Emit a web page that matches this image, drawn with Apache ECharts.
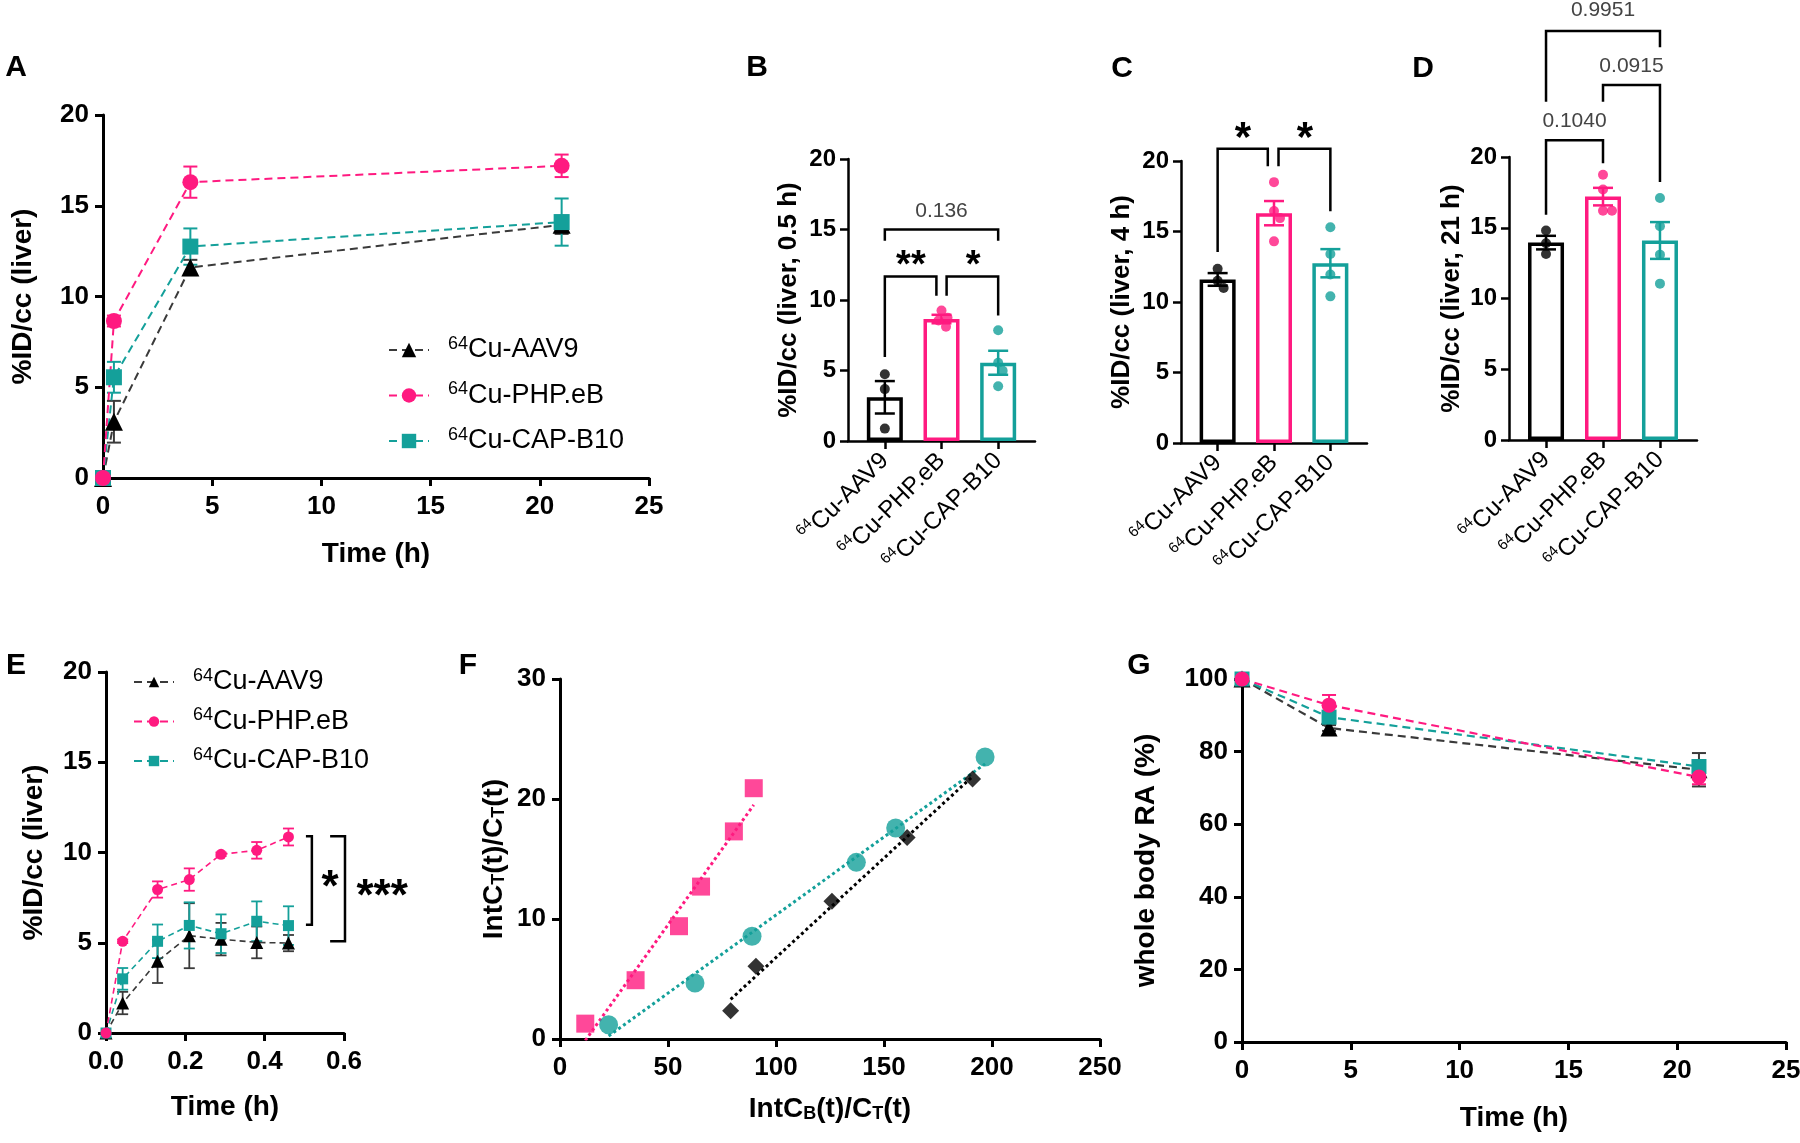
<!DOCTYPE html>
<html><head><meta charset="utf-8">
<script src="https://cdn.jsdelivr.net/npm/echarts@6/dist/echarts.min.js"></script>
<style>html,body{margin:0;padding:0;background:#fff}#c{width:1800px;height:1143px}</style>
</head><body><div id="c"></div>
<script>
// ---------------- DATA ----------------
const groupNames = ['64Cu-AAV9', '64Cu-PHP.eB', '64Cu-CAP-B10'];

// Panel A: liver uptake vs time
const timeA = [0, 0.5, 4, 21];
const liverA_AAV9 = [0, 3.1, 11.6, 13.95];
const liverA_AAV9_sem = [0, 1.15, 0.42, 0.5];
const liverA_PHP = [0, 8.65, 16.3, 17.2];
const liverA_PHP_sem = [0, 0.3, 0.86, 0.62];
const liverA_CAP = [0, 5.55, 12.75, 14.1];
const liverA_CAP_sem = [0, 0.85, 1.0, 1.3];
const ticksA_x = [0, 5, 10, 15, 20, 25];
const ticksA_y = [0, 5, 10, 15, 20];

// Panel B: 0.5 h
const pointsB = [[4.74, 3.68, 0.88], [9.25, 8.75, 8.55, 8.1], [7.85, 5.55, 4.98, 3.88]];
const meanB = [3.1, 8.65, 5.55];
const semB = [1.15, 0.3, 0.85];
// Panel C: 4 h
const pointsC = [[12.35, 11.5, 11.0], [18.5, 16.45, 15.95, 14.3], [15.3, 13.4, 11.95, 10.4]];
const meanC = [11.6, 16.3, 12.75];
const semC = [0.45, 0.86, 1.0];
// Panel D: 21 h
const pointsD = [[14.8, 13.9, 13.15], [18.75, 17.7, 16.2, 16.2], [17.1, 15.1, 13.1, 11.05]];
const meanD = [13.95, 17.2, 14.1];
const semD = [0.48, 0.62, 1.3];
const ticksBar_y = [0, 5, 10, 15, 20];

// Significance brackets (data units)
const bracketsB = [
  {x1: 0, x2: 2, top: 15.0, leg1: 14.2, leg2: 14.2, text: '0.136', tx: 1, ty: 16.3, star: false},
  {x1: 0, x2: 0.91, top: 11.66, leg1: 5.96, leg2: 10.3, text: '**', tx: 0.46, ty: 13.0, star: true},
  {x1: 1.09, x2: 2, top: 11.66, leg1: 10.3, leg2: 8.9, text: '*', tx: 1.56, ty: 13.0, star: true}
];
const bracketsC = [
  {x1: 0, x2: 0.89, top: 20.86, leg1: 13.55, leg2: 19.63, text: '*', tx: 0.45, ty: 22.2, star: true},
  {x1: 1.08, x2: 2, top: 20.86, leg1: 19.63, leg2: 16.44, text: '*', tx: 1.55, ty: 22.2, star: true}
];
const bracketsD = [
  {x1: 0, x2: 1, top: 21.18, leg1: 15.92, leg2: 19.55, text: '0.1040', tx: 0.5, ty: 22.5, star: false},
  {x1: 1, x2: 2, top: 25.08, leg1: 23.9, leg2: 18.24, text: '0.0915', tx: 1.5, ty: 26.45, star: false},
  {x1: 0, x2: 2, top: 28.9, leg1: 23.9, leg2: 27.76, text: '0.9951', tx: 1.0, ty: 30.35, star: false}
];

// Panel E: early liver uptake
const timeE = [0, 0.042, 0.13, 0.21, 0.29, 0.38, 0.46];
const liverE_AAV9 = [0, 1.66, 3.97, 5.39, 5.2, 5.02, 4.98];
const liverE_AAV9_sem = [0, 0.62, 1.2, 1.8, 0.9, 0.88, 0.45];
const liverE_PHP = [0, 5.08, 7.95, 8.5, 9.9, 10.12, 10.86];
const liverE_PHP_sem = [0, 0.1, 0.45, 0.62, 0.1, 0.46, 0.47];
const liverE_CAP = [0, 3.0, 5.08, 5.96, 5.5, 6.19, 5.95];
const liverE_CAP_sem = [0, 0.6, 0.93, 1.28, 1.07, 1.1, 1.07];
const ticksE_x = [0, 0.2, 0.4, 0.6];
const ticksE_y = [0, 5, 10, 15, 20];
const bracketsE = [
  {x: 0.519, arm: 0.504, top: 10.9, bottom: 6.0, text: '*', tx: 0.565, ty: 8.5},
  {x: 0.6025, arm: 0.565, top: 10.9, bottom: 5.08, text: '***', tx: 0.696, ty: 8.0}
];

// Panel F: Patlak-type plot
const fPHP_x = [11.7, 35, 55.1, 65.3, 80.5, 89.7];
const fPHP_y = [1.28, 4.9, 9.4, 12.7, 17.3, 20.9];
const fCAP_x = [22.5, 62.5, 88.9, 137.2, 155.4, 196.8];
const fCAP_y = [1.19, 4.67, 8.56, 14.72, 17.58, 23.5];
const fAAV9_x = [79, 90.7, 125.9, 160.7, 191];
const fAAV9_y = [2.36, 6.06, 11.47, 16.8, 21.67];
const ticksF_x = [0, 50, 100, 150, 200, 250];
const ticksF_y = [0, 10, 20, 30];

// Panel G: whole body RA
const timeG = [0, 4, 21];
const raG_AAV9 = [100, 86.5, 75.0];
const raG_AAV9_sem = [0, 0.8, 4.6];
const raG_PHP = [100, 92.8, 73.0];
const raG_PHP_sem = [0, 2.8, 2.0];
const raG_CAP = [100, 89.5, 75.9];
const raG_CAP_sem = [0, 1.5, 1.5];
const ticksG_x = [0, 5, 10, 15, 20, 25];
const ticksG_y = [0, 20, 40, 60, 80, 100];

// ---------------- STYLE / LAYOUT ----------------
const FF = '"Liberation Sans", Arial, Helvetica, sans-serif';
const PINK = '#FF1A80', TEAL = '#14A09A', BLACK = '#000000', DARK = '#3a3a3a';
const COLORS = [BLACK, PINK, TEAL];
const LINECOLORS = [DARK, PINK, TEAL];
const SYMBOLS = ['triangle', 'circle', 'rect'];

const GRIDS = [
  {left: 103, top: 115, width: 546, height: 363},   // A
  {left: 848, top: 159, width: 187, height: 282},   // B
  {left: 1181, top: 161, width: 186, height: 282},  // C
  {left: 1509, top: 157, width: 188, height: 283},  // D
  {left: 106, top: 672, width: 238, height: 361},   // E
  {left: 560, top: 679, width: 540, height: 360},   // F
  {left: 1242, top: 679, width: 544, height: 363}   // G
];

const supRich = (big, small) => ({
  s: {fontSize: small, lineHeight: small + 2, verticalAlign: 'top', fontFamily: FF, color: '#000'},
  t: {fontSize: big, lineHeight: big + 6, fontFamily: FF, color: '#000'}
});
const supFmt = n => '{s|64}{t|' + n.replace(/^64/, '') + '}';

function valAxis(gi, ticks, o) {
  const ax = {
    type: 'value', gridIndex: gi,
    min: ticks[0], max: ticks[ticks.length - 1], interval: ticks[1] - ticks[0],
    axisLine: {show: true, onZero: false, lineStyle: {color: '#000', width: o.lw}},
    axisTick: {show: true, length: 8, lineStyle: {color: '#000', width: o.lw}},
    axisLabel: {show: true, color: '#000', fontFamily: FF, fontSize: o.fs, fontWeight: 'bold', margin: o.margin || 12,
      formatter: o.fmt || (v => String(v))},
    splitLine: {show: false},
    name: o.name, nameLocation: 'middle', nameGap: o.gap, nameRotate: o.rot || 0,
    nameTextStyle: {color: '#000', fontFamily: FF, fontSize: o.nfs, fontWeight: 'bold'}
  };
  if (o.rich) ax.nameTextStyle.rich = o.rich;
  return ax;
}
function catAxis(gi) {
  return {
    type: 'value', gridIndex: gi, min: -0.65, max: 2.65,
    axisLine: {show: true, onZero: false, lineStyle: {color: '#000', width: 2.5}},
    axisTick: {show: true, length: 8, customValues: [0, 1, 2], lineStyle: {color: '#000', width: 2.5}},
    axisLabel: {show: true, customValues: [0, 1, 2], rotate: 45, margin: 16,
      formatter: v => supFmt(groupNames[Math.round(v)]), rich: supRich(24, 15)},
    splitLine: {show: false}
  };
}

const xAxes = [], yAxes = [];
const yRich = {s: {fontSize: 18, lineHeight: 14, verticalAlign: 'bottom', fontWeight: 'bold', fontFamily: FF, color: '#000'}};
// A
xAxes.push(valAxis(0, ticksA_x, {lw: 3, fs: 26, margin: 16, name: 'Time (h)', gap: 62, nfs: 28}));
yAxes.push(valAxis(0, ticksA_y, {lw: 3, fs: 26, margin: 14, name: '%ID/cc (liver)', gap: 66, nfs: 28, rot: 90}));
// B, C, D
const barTitles = ['%ID/cc (liver, 0.5 h)', '%ID/cc (liver, 4 h)', '%ID/cc (liver, 21 h)'];
const barGaps = [46, 46, 44];
for (let k = 0; k < 3; k++) {
  xAxes.push(catAxis(k + 1));
  yAxes.push(valAxis(k + 1, ticksBar_y, {lw: 2.5, fs: 24, margin: 12, name: barTitles[k], gap: barGaps[k], nfs: 26, rot: 90}));
}
// E
xAxes.push(valAxis(4, ticksE_x, {lw: 3, fs: 26, margin: 16, name: 'Time (h)', gap: 60, nfs: 28, fmt: v => v.toFixed(1)}));
yAxes.push(valAxis(4, ticksE_y, {lw: 3, fs: 26, margin: 14, name: '%ID/cc (liver)', gap: 58, nfs: 28, rot: 90}));
// F
xAxes.push(valAxis(5, ticksF_x, {lw: 3, fs: 26, margin: 16, name: 'IntC{s|B}(t)/C{s|T}(t)', gap: 56, nfs: 28, rich: yRich}));
yAxes.push(valAxis(5, ticksF_y, {lw: 3, fs: 26, margin: 14, name: 'IntC{s|T}(t)/C{s|T}(t)', gap: 52, nfs: 28, rot: 90, rich: yRich}));
// G
xAxes.push(valAxis(6, ticksG_x, {lw: 3, fs: 26, margin: 16, name: 'Time (h)', gap: 62, nfs: 28}));
yAxes.push(valAxis(6, ticksG_y, {lw: 3, fs: 26, margin: 14, name: 'whole body RA (%)', gap: 82, nfs: 28, rot: 90}));

// ---------------- SERIES HELPERS ----------------
function errSeries(ai, xs, means, sems, color, capW, lw, z) {
  return {
    type: 'custom', xAxisIndex: ai, yAxisIndex: ai, silent: true, z: z || 3,
    data: xs.map((x, i) => [x, means[i] - sems[i], means[i] + sems[i]]),
    renderItem: (params, api) => {
      const x = api.value(0), lo = api.value(1), hi = api.value(2);
      if (hi - lo <= 0) return null;
      const a = api.coord([x, hi]), b = api.coord([x, lo]);
      const st = {stroke: color, lineWidth: lw};
      return {type: 'group', children: [
        {type: 'line', shape: {x1: a[0], y1: a[1], x2: b[0], y2: b[1]}, style: st},
        {type: 'line', shape: {x1: a[0] - capW / 2, y1: a[1], x2: a[0] + capW / 2, y2: a[1]}, style: st},
        {type: 'line', shape: {x1: b[0] - capW / 2, y1: b[1], x2: b[0] + capW / 2, y2: b[1]}, style: st}
      ]};
    }
  };
}
function lineSeries(ai, gi, xs, ys, size, lw, dash, z) {
  return {
    type: 'line', name: groupNames[gi], xAxisIndex: ai, yAxisIndex: ai,
    data: xs.map((x, i) => [x, ys[i]]), symbol: SYMBOLS[gi], symbolSize: gi === 0 ? size + 2 : size,
    itemStyle: {color: COLORS[gi]}, lineStyle: {color: LINECOLORS[gi], width: lw, type: dash},
    z: z || 4, silent: true
  };
}
function bracketSeries(ai, list, opt) {
  return {
    type: 'custom', xAxisIndex: ai, yAxisIndex: ai, silent: true, z: 6, clip: false,
    data: list.map(b => [b.x1, b.top]),
    renderItem: (params, api) => {
      const b = list[params.dataIndex];
      const p1 = api.coord([b.x1, b.leg1]), t1 = api.coord([b.x1, b.top]);
      const t2 = api.coord([b.x2, b.top]), p2 = api.coord([b.x2, b.leg2]);
      const lab = api.coord([b.tx, b.ty]);
      const fs = b.star ? opt.starFs : opt.pFs;
      return {type: 'group', children: [
        {type: 'polyline', shape: {points: [p1, t1, t2, p2]}, style: {stroke: '#000', lineWidth: opt.lw, fill: null}},
        {type: 'text', x: lab[0], y: lab[1] + (b.star ? fs * 0.22 : 0), style: {text: b.text, fontSize: fs,
          fontWeight: b.star ? 'bold' : 'normal', fontFamily: FF, fill: b.star ? '#000' : '#444',
          align: 'center', verticalAlign: 'middle'}}
      ]};
    }
  };
}
function vBracketSeries(ai, list, opt) {
  return {
    type: 'custom', xAxisIndex: ai, yAxisIndex: ai, silent: true, z: 6, clip: false,
    data: list.map(b => [b.x, b.top]),
    renderItem: (params, api) => {
      const b = list[params.dataIndex];
      const pts = [api.coord([b.arm, b.top]), api.coord([b.x, b.top]), api.coord([b.x, b.bottom]), api.coord([b.arm, b.bottom])];
      const lab = api.coord([b.tx, b.ty]);
      return {type: 'group', children: [
        {type: 'polyline', shape: {points: pts}, style: {stroke: '#000', lineWidth: opt.lw, fill: null}},
        {type: 'text', x: lab[0], y: lab[1] + opt.starFs * 0.22, style: {text: b.text, fontSize: opt.starFs,
          fontWeight: 'bold', fontFamily: FF, fill: '#000', align: 'center', verticalAlign: 'middle'}}
      ]};
    }
  };
}
// beeswarm offsets (in x data units) computed from pixel overlap
function swarm(vals, pxX, pxY, d) {
  const placed = [], res = [];
  vals.forEach(v => {
    const y = v * pxY;
    for (let k = 0; k < 60; k++) {
      const o = (k % 2 ? 1 : -1) * Math.ceil(k / 2) * 1.5;
      if (placed.every(p => Math.hypot(p[0] - o, p[1] - y) >= d)) { placed.push([o, y]); res.push(o / pxX); break; }
    }
  });
  return res;
}
function fitLine(xs, ys) {
  const n = xs.length, mx = xs.reduce((a, b) => a + b) / n, my = ys.reduce((a, b) => a + b) / n;
  let sxy = 0, sxx = 0;
  for (let i = 0; i < n; i++) { sxy += (xs[i] - mx) * (ys[i] - my); sxx += (xs[i] - mx) ** 2; }
  const b = sxy / sxx, a = my - b * mx;
  const x0 = Math.min(...xs), x1 = Math.max(...xs);
  return [[x0, a + b * x0], [x1, a + b * x1]];
}

// ---------------- BUILD SERIES ----------------
const series = [];
// Panel A
const A = [[liverA_AAV9, liverA_AAV9_sem], [liverA_PHP, liverA_PHP_sem], [liverA_CAP, liverA_CAP_sem]];
[0, 2, 1].forEach(g => {
  series.push(errSeries(0, timeA, A[g][0], A[g][1], COLORS[g] === BLACK ? DARK : COLORS[g], 14, 2, 3));
  series.push(lineSeries(0, g, timeA, A[g][0], 16, 2, [8, 5], 4));
});
// Panels B, C, D
const barSets = [[pointsB, meanB, semB, bracketsB], [pointsC, meanC, semC, bracketsC], [pointsD, meanD, semD, bracketsD]];
barSets.forEach((set, k) => {
  const ai = k + 1;
  const [pts, means, sems, brackets] = set;
  const gr = GRIDS[ai];
  const pxX = gr.width / 3.3, pxY = gr.height / 20;
  series.push({
    type: 'bar', xAxisIndex: ai, yAxisIndex: ai, barWidth: 36, silent: true, z: 2,
    data: means.map((m, i) => ({value: [i, m], itemStyle: {color: 'rgba(255,255,255,0)', borderColor: COLORS[i], borderWidth: 3.5}}))
  });
  for (let i = 0; i < 3; i++) {
    series.push(errSeries(ai, [i], [means[i]], [sems[i]], COLORS[i], 20, 2.5, 3));
    const jit = swarm(pts[i], pxX, pxY, 9);
    series.push({
      type: 'scatter', xAxisIndex: ai, yAxisIndex: ai, silent: true, z: 4,
      data: pts[i].map((v, j) => [i + jit[j], v]), symbol: 'circle', symbolSize: 10, itemStyle: {color: COLORS[i]}
    });
  }
  series.push(bracketSeries(ai, brackets, {lw: 2.5, starFs: k === 0 ? 38 : 42, pFs: 21}));
});
// Panel E
const E = [[liverE_AAV9, liverE_AAV9_sem], [liverE_PHP, liverE_PHP_sem], [liverE_CAP, liverE_CAP_sem]];
[0, 2, 1].forEach(g => {
  series.push(errSeries(4, timeE, E[g][0], E[g][1], COLORS[g] === BLACK ? DARK : COLORS[g], 11, 1.8, 3));
  series.push(lineSeries(4, g, timeE, E[g][0], 11, 1.6, [6, 4], 4));
});
series.push(vBracketSeries(4, bracketsE, {lw: 2.5, starFs: 44}));
// Panel F
const F = [[fAAV9_x, fAAV9_y, 'diamond', 17], [fPHP_x, fPHP_y, 'rect', 18], [fCAP_x, fCAP_y, 'circle', 19]];
F.forEach((f, g) => {
  series.push({
    type: 'line', xAxisIndex: 5, yAxisIndex: 5, silent: true, z: 3, symbol: 'none',
    data: fitLine(f[0], f[1]), lineStyle: {color: COLORS[g], width: 3, type: 'dotted'}
  });
  series.push({
    type: 'scatter', xAxisIndex: 5, yAxisIndex: 5, silent: true, z: 4,
    data: f[0].map((x, i) => [x, f[1][i]]), symbol: f[2], symbolSize: f[3], itemStyle: {color: COLORS[g]}
  });
});
// Panel G
const Gd = [[raG_AAV9, raG_AAV9_sem], [raG_PHP, raG_PHP_sem], [raG_CAP, raG_CAP_sem]];
[0, 2, 1].forEach(g => {
  series.push(errSeries(6, timeG, Gd[g][0], Gd[g][1], COLORS[g] === BLACK ? DARK : COLORS[g], 14, 2, 3));
  series.push(lineSeries(6, g, timeG, Gd[g][0], 15, 2.2, [8, 5], 4));
});

// ---------------- LEGENDS / LETTERS ----------------
const legendCommon = {
  orient: 'vertical', itemWidth: 40, selectedMode: false, data: groupNames.slice(),
  formatter: n => '{s|64}{t|' + n.replace(/^64/, '') + '}',
  textStyle: {rich: {
    s: {fontSize: 18, lineHeight: 18, verticalAlign: 'top', fontFamily: FF, color: '#000', padding: [0, 0, 0, 14]},
    t: {fontSize: 27, lineHeight: 30, fontFamily: FF, color: '#000'}
  }}
};
const legends = [
  Object.assign({}, legendCommon, {left: 383, top: 330, itemHeight: 18, itemGap: 17}),
  Object.assign({}, legendCommon, {left: 128, top: 662, itemHeight: 13, itemGap: 11})
];
const letters = [['A', 16, 68], ['B', 757, 68], ['C', 1122, 69], ['D', 1423, 69], ['E', 16, 666], ['F', 468, 666], ['G', 1139, 666]];
const graphic = letters.map(l => ({
  type: 'text', x: l[1], y: l[2], silent: true,
  style: {text: l[0], fontSize: 30, fontWeight: 'bold', fontFamily: FF, fill: '#000', align: 'center', verticalAlign: 'middle'}
}));

const chart = echarts.init(document.getElementById('c'), null, {renderer: 'canvas'});
chart.setOption({
  animation: false,
  backgroundColor: '#fff',
  textStyle: {fontFamily: FF},
  grid: GRIDS.map(g => Object.assign({containLabel: false, outerBoundsMode: 'none', show: false}, g)),
  xAxis: xAxes,
  yAxis: yAxes,
  legend: legends,
  graphic: graphic,
  series: series
});
</script>
</body></html>
